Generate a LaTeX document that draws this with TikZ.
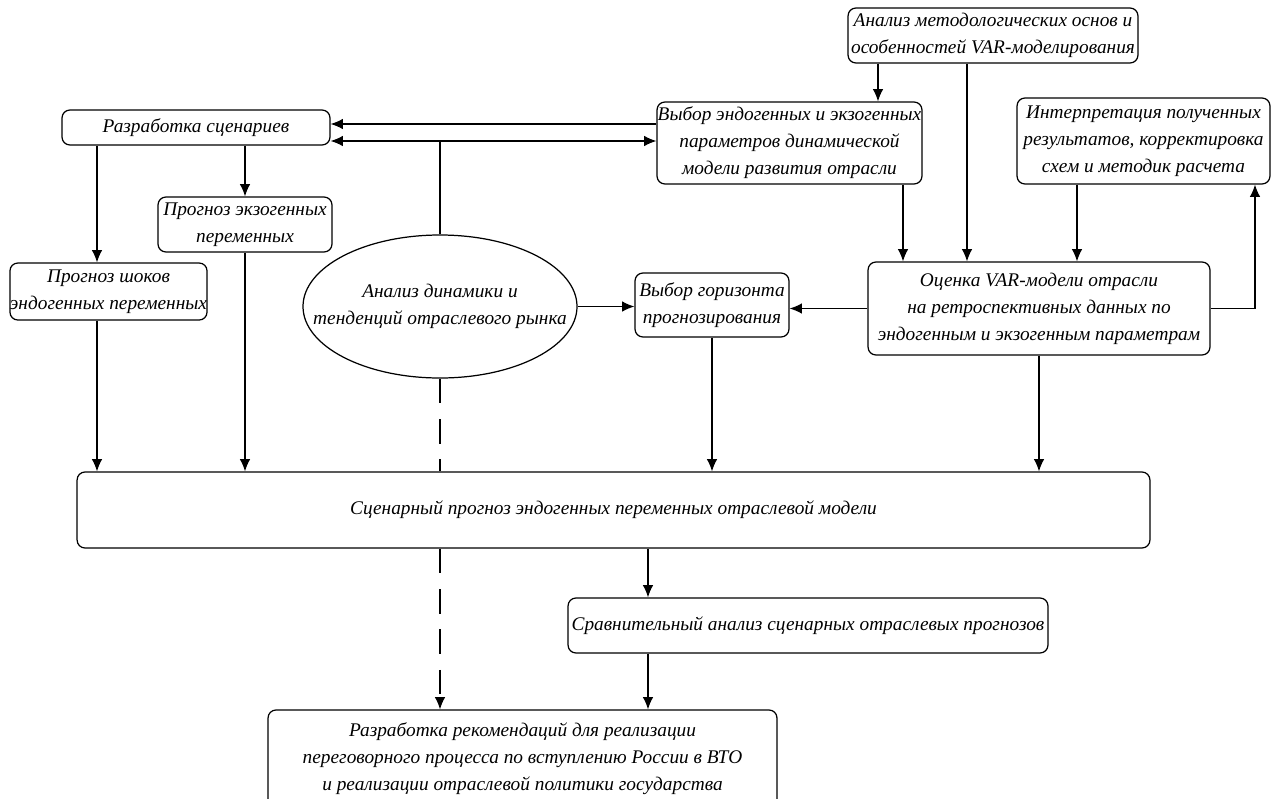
\documentclass[tikz,border=0pt]{standalone}
\usepackage{fontspec}
\setmainfont{Liberation Serif}
\usetikzlibrary{arrows.meta}
\begin{document}
\begin{tikzpicture}[x=0.02cm, y=-0.02cm, >={Latex[length=7pt,width=6pt]}, line width=0.7pt,
    box/.style={draw, rounded corners=4.5pt, align=center, inner sep=0pt, fill=white,
      font=\itshape\fontsize{11}{15.4}\selectfont},
    oval/.style={align=center, inner sep=0pt,
      font=\itshape\fontsize{11}{15.4}\selectfont}]
    \useasboundingbox (0,0) rectangle (1273,798);

    \node[box, minimum width=5.8cm, minimum height=1.1cm] (meth) at (993,35.5)
      {Анализ методологических основ и\\особенностей VAR-моделирования};
    \node[box, minimum width=5.3cm, minimum height=1.64cm] (endo) at (789.5,143)
      {Выбор эндогенных и экзогенных\\параметров динамической\\модели развития отрасли};
    \node[box, minimum width=5.06cm, minimum height=1.72cm] (interp) at (1143.5,141)
      {Интерпретация полученных\\результатов, корректировка\\схем и методик расчета};
    \node[box, minimum width=5.36cm, minimum height=0.7cm] (scen) at (196,127.5)
      {Разработка сценариев};
    \node[box, minimum width=3.48cm, minimum height=1.1cm] (exo) at (245,224.5)
      {Прогноз экзогенных\\переменных};
    \node[box, minimum width=3.94cm, minimum height=1.14cm] (shock) at (108.5,291.5)
      {Прогноз шоков\\эндогенных переменных};
    \node[oval, minimum width=5.48cm, minimum height=2.86cm] (market) at (440,306.5)
      {Анализ динамики и\\тенденций отраслевого рынка};
    \draw (market.center) ellipse (137 and 71.5);
    \node[box, minimum width=3.08cm, minimum height=1.28cm] (horizon) at (712,305)
      {Выбор горизонта\\прогнозирования};
    \node[box, minimum width=6.84cm, minimum height=1.86cm] (var) at (1039,308.5)
      {Оценка VAR-модели отрасли\\на ретроспективных данных по\\эндогенным и экзогенным параметрам};
    \node[box, minimum width=21.46cm, minimum height=1.52cm] (model) at (613.5,510)
      {Сценарный прогноз эндогенных переменных отраслевой модели};
    \node[box, minimum width=9.6cm, minimum height=1.1cm] (compare) at (808,625.5)
      {Сравнительный анализ сценарных отраслевых прогнозов};
    \node[box, minimum width=10.18cm, minimum height=1.96cm] (advice) at (522.5,759)
      {Разработка рекомендаций для реализации\\переговорного процесса по вступлению России в ВТО\\и реализации отраслевой политики государства};

    \coordinate (s1) at (scen.east |- 0,124);
    \coordinate (s2) at (scen.east |- 0,141);
    \coordinate (mx) at (878,0);
    \coordinate (my) at (967,0);
    \coordinate (ex) at (903,0);
    \coordinate (ix) at (1077,0);
    \coordinate (rx) at (1255,0);
    \coordinate (kx) at (97,0);
    \coordinate (cx) at (648,0);

    % top block
    \draw[->] (endo.west |- s1) -- (s1);
    \draw[<->] (s2) -- (endo.west |- s2);
    \draw (market.north) -- (market.north |- s2);
    \draw[->] (meth.south -| mx) -- (endo.north -| mx);
    \draw[->] (meth.south -| my) -- (var.north -| my);
    \draw[->] (endo.south -| ex) -- (var.north -| ex);
    \draw[->] (interp.south -| ix) -- (var.north -| ix);
    \draw[->] (var.east) -| (interp.south -| rx);

    % middle
    \draw[->] (var.west) -- (var.west -| horizon.east);
    \draw[->] (market.east) -- (market.east -| horizon.west);
    \draw[->] (scen.south -| exo.north) -- (exo.north);
    \draw[->] (scen.south -| kx) -- (shock.north -| kx);

    % into the scenario forecast
    \draw[->] (shock.south -| kx) -- (model.north -| kx);
    \draw[->] (exo.south) -- (model.north -| exo.south);
    \draw[->] (horizon.south) -- (model.north -| horizon.south);
    \draw[->] (var.south) -- (model.north -| var.south);
    \draw[dash pattern=on 14pt off 9pt] (market.south) -- (model.north -| market.south);
    \draw[->, dash pattern=on 14pt off 9pt] (model.south -| market.south) -- (advice.north -| market.south);

    % bottom
    \draw[->] (model.south -| cx) -- (compare.north -| cx);
    \draw[->] (compare.south -| cx) -- (advice.north -| cx);
\end{tikzpicture}
\end{document}
